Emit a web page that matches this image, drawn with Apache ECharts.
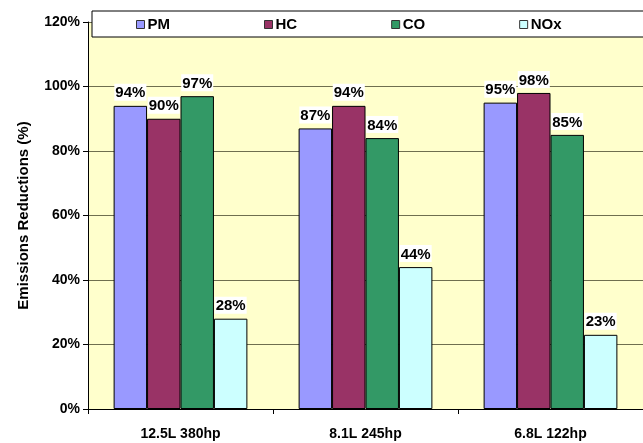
<!DOCTYPE html>
<html><head><meta charset="utf-8">
<script src="https://cdn.jsdelivr.net/npm/echarts@6/dist/echarts.min.js"></script>
<style>html,body{margin:0;padding:0;background:#fff}#c{width:643px;height:443px}</style>
</head><body><div id="c"></div>
<script>
var categories = ['12.5L 380hp', '8.1L 245hp', '6.8L 122hp'];
var seriesNames = ['PM', 'HC', 'CO', 'NOx'];
var pmValues = [94, 87, 95];
var hcValues = [90, 94, 98];
var coValues = [97, 84, 85];
var noxValues = [28, 44, 23];
var yTicks = [0, 20, 40, 60, 80, 100, 120];
var colors = ['#9999FF', '#993366', '#339966', '#CCFFFF'];

var values = [pmValues, hcValues, coValues, noxValues];
var font = 'Arial, "Liberation Sans", sans-serif';
var chart = echarts.init(document.getElementById('c'));
chart.setOption({
  animation: false,
  backgroundColor: '#fff',
  textStyle: {fontFamily: font},
  grid: {left: 88, right: -8, top: 22, bottom: 34, show: true, backgroundColor: '#FFFFCC', borderWidth: 0},
  graphic: [{type: 'rect', z: 3, shape: {x: 92, y: 11, width: 600, height: 26}, style: {fill: '#fff', stroke: '#000', lineWidth: 1}}],
  legend: {
    left: 136, top: 17, padding: 0, itemGap: 94, itemWidth: 8, itemHeight: 8, icon: 'rect', z: 5,
    itemStyle: {borderColor: '#333', borderWidth: 1},
    textStyle: {fontFamily: font, fontWeight: 'bold', fontSize: 15, color: '#000', padding: [0, 0, 0, -2]},
    data: seriesNames
  },
  xAxis: {
    type: 'category', data: categories,
    axisLine: {lineStyle: {color: '#000', width: 1}},
    axisTick: {show: true, length: 5, lineStyle: {color: '#000'}},
    axisLabel: {fontFamily: font, fontWeight: 'bold', fontSize: 14, color: '#000', margin: 18}
  },
  yAxis: {
    type: 'value', min: yTicks[0], max: yTicks[yTicks.length - 1], interval: 20,
    name: 'Emissions Reductions (%)', nameLocation: 'middle', nameGap: 57,
    nameTextStyle: {fontFamily: font, fontWeight: 'bold', fontSize: 15, color: '#000'},
    axisLine: {show: true, lineStyle: {color: '#000', width: 1}},
    axisTick: {show: true, length: 5, lineStyle: {color: '#000'}},
    axisLabel: {formatter: '{value}%', fontFamily: font, fontWeight: 'bold', fontSize: 14, color: '#000', margin: 8},
    splitLine: {show: true, lineStyle: {color: '#6f6f4f', width: 1.2}}
  },
  series: seriesNames.map(function (n, i) {
    return {
      name: n, type: 'bar', data: values[i], barGap: '0%', barCategoryGap: '27.7%',
      itemStyle: {color: colors[i], borderColor: '#000', borderWidth: 1},
      label: {show: true, position: 'top', distance: 5, formatter: '{c}%', backgroundColor: '#fff',
        padding: [2, 1, 0, 1], fontFamily: font, fontWeight: 'bold', fontSize: 15, color: '#000'}
    };
  })
});
</script></body></html>
